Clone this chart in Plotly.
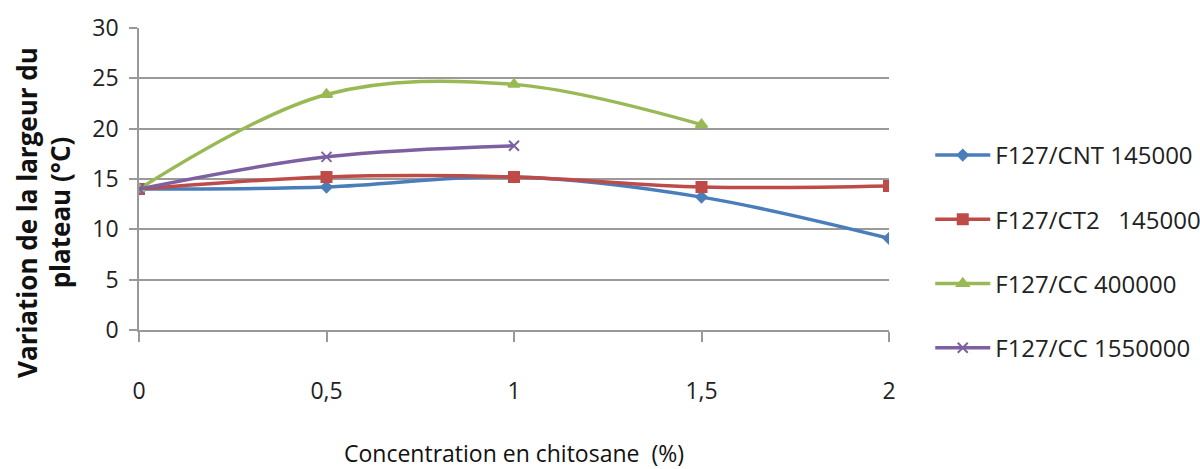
import plotly.graph_objects as go

# Concentration en chitosane (%)
concentration = [0, 0.5, 1, 1.5, 2]
tick_labels = ["0", "0,5", "1", "1,5", "2"]

# Variation de la largeur du plateau (°C) par formulation
cnt_145000 = [14.0, 14.2, 15.2, 13.2, 9.1]
ct2_145000 = [14.0, 15.2, 15.2, 14.2, 14.3]
cc_400000 = [14.0, 23.4, 24.4, 20.4]
cc_1550000 = [14.0, 17.2, 18.3]

series = [
    ("F127/CNT 145000", cnt_145000, "#4A7EBB", "diamond", 8),
    ("F127/CT2   145000", ct2_145000, "#BE4B48", "square", 10),
    ("F127/CC 400000", cc_400000, "#98B954", "triangle-up", 10),
    ("F127/CC 1550000", cc_1550000, "#7D60A0", "x-thin", 10),
]

font_family = "Open Sans, DejaVu Sans, sans-serif"

fig = go.Figure()
for i, (name, values, color, symbol, size) in enumerate(series):
    fig.add_trace(go.Scatter(
        x=concentration[:len(values)],
        y=values,
        name=name,
        legendgroup=f"g{i}",
        mode="lines+markers",
        line=dict(color=color, width=3.5, shape="spline", smoothing=1.0),
        marker=dict(symbol=symbol, size=size, color=color,
                    line=dict(color=color, width=2)),
    ))

fig.update_layout(
    width=1200,
    height=469,
    margin=dict(l=139, r=311, t=28, b=139, autoexpand=False),
    paper_bgcolor="white",
    plot_bgcolor="white",
    font=dict(family=font_family, color="#222222", size=22),
    showlegend=True,
    legend=dict(
        x=1.055, y=0.26, xanchor="left", yanchor="middle",
        traceorder="grouped", tracegroupgap=30,
        font=dict(size=24, color="#222222"),
        bgcolor="rgba(0,0,0,0)",
        itemwidth=55,
    ),
    xaxis=dict(
        range=[0, 2],
        tickmode="array",
        tickvals=concentration,
        ticktext=tick_labels,
        ticks="outside",
        ticklen=10,
        tickcolor="#999999",
        tickwidth=1.5,
        showline=True,
        linecolor="#999999",
        linewidth=1.5,
        showgrid=False,
        zeroline=False,
        ticklabelstandoff=30,
        tickfont=dict(size=23),
        title=dict(text="Concentration en chitosane  (%)",
                   font=dict(size=23, color="#111111"), standoff=44),
    ),
    yaxis=dict(
        range=[0, 30],
        tickmode="linear",
        tick0=0,
        dtick=5,
        ticks="outside",
        ticklen=8,
        tickcolor="#999999",
        tickwidth=1.5,
        showline=True,
        linecolor="#999999",
        linewidth=1.5,
        showgrid=True,
        gridcolor="#9a9a9a",
        gridwidth=1.5,
        zeroline=False,
        tickfont=dict(size=23),
        ticklabelstandoff=6,
    ),
    annotations=[dict(
        text="<b>Variation de la largeur du<br>plateau (°C)</b>",
        xref="paper", yref="paper",
        x=-0.127, y=0.39,
        xanchor="center", yanchor="middle",
        textangle=-90,
        showarrow=False,
        font=dict(size=26, color="#111111"),
    )],
)

fig.write_html("out.html")
